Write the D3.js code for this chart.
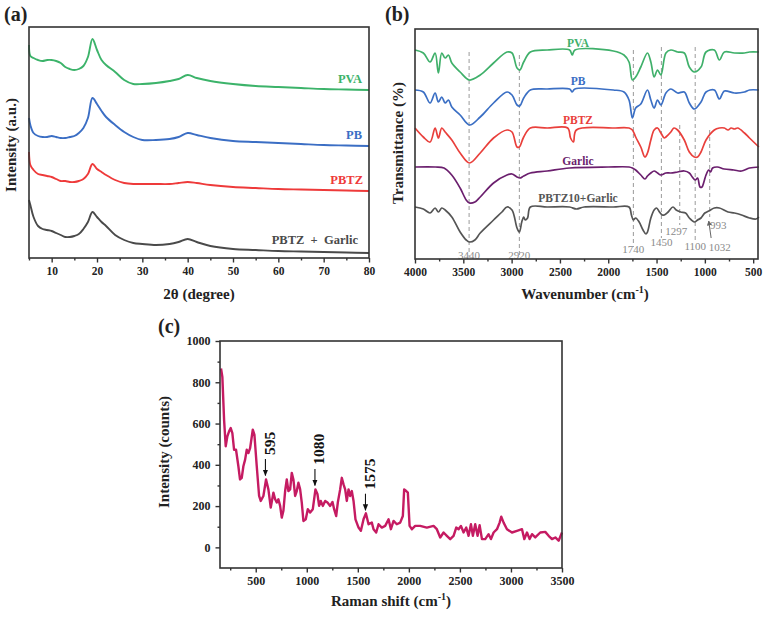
<!DOCTYPE html>
<html><head><meta charset="utf-8">
<script src="https://cdn.jsdelivr.net/npm/d3@7"></script>
<style>
body{margin:0;background:#fff;}
text{font-family:"Liberation Serif","Times New Roman",serif;}
</style></head>
<body><svg id="c" width="764" height="617"></svg>
<script>
// ---------- Panel (a) XRD ----------
const xrdAngle = [5,5.3,6,7,8,9,10,11,12,13,14,15,16,17,18,19,20,21,22,24,26,28,30,33,36,38,40,42,45,50,55,60,65,70,75,80];
const xrdPVA  = [213,202,200,198,197,198,198,197,195,191,189,188,189,192,201,219,208,198,193,186,178,174,174,175,177,179,183,180,177,174,172,171,170,169,168.5,168];
const xrdPB   = [140,133,125,122,121,121,122,121,120,120,121,122,125,130,140,160,154,147,141,133,126,121,118,118,119,121,125,123,120,117,116,115,114,113,112.5,112];
const xrdPBTZ = [106,93,88,84,83,82,81,79,77,77,76,76,77,79,84,94,89,86,83,78,75,74,74,74,74,75,76,75,73,71,70,69,68.5,68,67.5,67];
const xrdPBTZG= [58,53,41,32,29,28,27,25,23,21,21,22,24,29,36,46,41,36,32,23,18,15,14,13,14,16,19,16,12,9,8,7,6.5,6,5.5,5];
const xrdNames = ["PVA","PB","PBTZ","PBTZ  +  Garlic"];
const xrdTicks = [10,20,30,40,50,60,70,80];

// ---------- Panel (b) FTIR ----------
const wnA = [4000,3914,3844,3792,3758,3723,3688,3654,3619,3533,3436,3325,3187,3048,2996,2944,2915,2875,2806,2632,2400,2373,2345,1947,1837,1785,1750,1716,1663,1594,1559,1525,1490,1455,1403,1352,1282,1213,1161,1109,1040,988,902,850,798,694,590,538,441];
const ftPVA = [209,206,197,206,186,206,201,204,196,187,179,184,196,207,206,191,189,197,207,209,209,204,209,208,204,197,179,182,192,206,197,182,189,184,206,209,207,206,192,187,192,207,209,199,207,206,206,207,207];
const ftPB  = [169,167,156,166,157,162,156,159,152,144,134,142,156,167,164,154,153,161,169,170,170,167,170,169,167,159,141,151,155,169,159,151,159,154,166,170,166,167,156,150,157,167,169,160,168,166,167,169,169];
const wnPBTZ = [4000,3914,3844,3792,3758,3723,3688,3619,3533,3436,3325,3187,3048,2996,2944,2920,2875,2806,2632,2420,2390,2360,2330,1947,1785,1750,1716,1663,1620,1594,1559,1525,1490,1455,1420,1403,1352,1320,1282,1213,1161,1109,1075,1040,988,902,850,798,760,728,694,660,590,538,441];
const ftPBTZ = [131,122,117,131,121,131,127,119,106,96,106,121,129,127,112,112,122,131,131,131,121,117,129,131,131,129,122,112,102,106,119,129,131,126,121,122,127,131,129,119,107,102,102,107,119,129,131,131,129,131,130,131,126,121,112];
const wnGarlic = [4000,3790,3700,3620,3533,3470,3436,3380,3325,3187,3048,2996,2944,2915,2875,2806,2632,2400,2000,1785,1750,1716,1663,1620,1594,1559,1525,1490,1455,1403,1352,1282,1213,1161,1130,1100,1075,1050,1030,1010,988,960,940,920,870,800,700,620,538,441];
const ftGarlic = [92,92,91,84,71,59,56,57,62,76,84,85,82,81,83,86,88,91,92,92,91,89,84,80,83,86,88,86,84,86,86,87,88,86,82,79,81,72,72,77,84,89,87,91,92,90,89,88,91,92];
const wnMix = [4000,3914,3844,3792,3758,3723,3688,3619,3533,3470,3436,3380,3325,3187,3100,3048,2996,2944,2920,2895,2875,2860,2835,2806,2632,2400,2330,2250,1947,1785,1760,1740,1716,1680,1640,1610,1594,1559,1525,1500,1470,1440,1420,1380,1330,1297,1250,1200,1161,1109,1075,1040,1000,960,902,850,760,694,620,538,470,441];
const ftMix = [52,50,46,51,47,51,49,42,27,19,17,19,26,39,47,52,49,31,27,37,42,39,41,52,52,52,50,52,52,52,44,39,41,37,29,25,27,41,49,51,47,44,44,47,52,49,47,46,41,37,39,41,46,48,51,51,47,46,44,41,40,42];
const ftNames = ["PVA","PB","PBTZ","Garlic","PBTZ10+Garlic"];
const ftTicks = [4000,3500,3000,2500,2000,1500,1000,500];
const peakLineWn  = [3440,2920,1740,1450,1260,1100,950];
const peakLineTop = [207,204,209,212,134,212,129];
const peakLineBot = [2,2,12,21,34,17,42];
const peakText   = ["3440","2920","1740","1450","1297","1100","993","1032"];

// ---------- Panel (c) Raman ----------
const ramanShift = [160,173,190,206,222,239,255,271,288,307,330,346,363,379,396,412,428,445,471,487,510,533,549,575,601,624,647,673,690,706,722,739,755,771,788,804,820,837,853,869,886,902,918,935,951,967,990,1010,1033,1059,1085,1105,1121,1137,1157,1180,1203,1229,1252,1268,1288,1304,1327,1343,1360,1376,1392,1409,1425,1441,1458,1477,1507,1530,1556,1579,1605,1637,1654,1680,1703,1735,1768,1801,1824,1850,1882,1915,1941,1954,1974,1990,2007,2030,2062,2111,2176,2242,2274,2307,2340,2372,2405,2438,2464,2487,2510,2536,2562,2585,2608,2627,2650,2673,2693,2716,2748,2781,2804,2830,2863,2889,2905,2928,2961,3010,3059,3108,3131,3157,3183,3206,3238,3287,3336,3369,3402,3435,3467,3500];
const ramanCounts = [867,826,618,490,538,562,578,554,473,473,393,329,337,393,425,473,457,481,570,546,393,249,225,249,329,281,193,265,233,217,233,201,144,177,273,329,273,281,361,329,249,273,313,281,217,128,136,185,169,185,281,257,201,225,201,225,217,201,220,185,152,217,281,337,305,281,225,281,249,273,225,136,96,80,136,165,112,120,88,72,112,96,104,136,88,128,112,120,152,281,273,265,104,88,104,104,96,104,88,48,72,56,40,56,96,88,104,72,96,56,112,56,112,56,107,40,40,64,40,72,88,120,149,120,88,72,80,88,40,72,40,64,48,72,75,56,40,48,32,72];
const ramanMarks = [595,1080,1575];
const ramanMarkTop = [448,400,280];
const ramanTicksX = [500,1000,1500,2000,2500,3000,3500];
const ramanTicksY = [0,200,400,600,800,1000];

// =====================================================
const svg = d3.select("#c");
const FONT = '"Liberation Serif","Times New Roman",serif';

function frame(x0,y0,x1,y1){
  svg.append("rect").attr("x",x0).attr("y",y0).attr("width",x1-x0).attr("height",y1-y0)
    .attr("fill","none").attr("stroke","#333").attr("stroke-width",1.6);
}
function styleAxis(g,size){
  g.select(".domain").remove();
  g.selectAll(".tick line").attr("stroke","#333").attr("stroke-width",1.4);
  g.selectAll(".tick text").attr("font-family",FONT).attr("font-weight","bold").attr("font-size",size).attr("fill","#222");
}
function panelLabel(t,x,y){
  svg.append("text").attr("x",x).attr("y",y).text(t).attr("font-size",20).attr("font-weight","bold").attr("fill","#222");
}
function supTitle(x,y,main,rot){
  const t = svg.append("text").attr("font-size",15).attr("font-weight","bold").attr("fill","#222").attr("text-anchor","middle");
  if(rot){ t.attr("transform",`translate(${x},${y}) rotate(-90)`).attr("dominant-baseline","central"); }
  else { t.attr("x",x).attr("y",y); }
  t.append("tspan").text(main);
  return t;
}

// ---------- Panel (a) ----------
{
  const x = d3.scaleLinear([5,80],[29,369]);
  const y = d3.scaleLinear([0,231],[258,27]);
  const colors = ["#3cb36a","#3b6ec4","#ee3a3a","#4a4a4a"];
  const series = [xrdPVA,xrdPB,xrdPBTZ,xrdPBTZG];
  const line = d3.line().x((d,i)=>x(xrdAngle[i])).y(d=>y(d)).curve(d3.curveCatmullRom.alpha(0.5));
  series.forEach((s,k)=>{
    svg.append("path").attr("d",line(s)).attr("fill","none").attr("stroke",colors[k]).attr("stroke-width",1.9);
  });
  const labY = [79,135,180,240];
  const labX = [362,362,363,358];
  xrdNames.forEach((n,k)=>{
    svg.append("text").attr("x",labX[k]).attr("y",labY[k]).attr("dy","0.35em").attr("text-anchor","end")
      .attr("font-size",12.5).attr("font-weight","bold").attr("fill",colors[k]).attr("xml:space","preserve").text(n);
  });
  const gMin = svg.append("g").attr("transform","translate(0,258)")
    .call(d3.axisBottom(x).tickValues([5,15,25,35,45,55,65,75]).tickSize(2.5).tickFormat(""));
  styleAxis(gMin,11);
  const g = svg.append("g").attr("transform","translate(0,258)")
    .call(d3.axisBottom(x).tickValues(xrdTicks).tickSize(4.5).tickPadding(4).tickFormat(d3.format("d")));
  styleAxis(g,11.5);
  frame(29,27,369,258);
  const t = supTitle(199,299,"2θ (degree)",false);
  supTitle(11,145,"Intensity (a.u.)",true);
  panelLabel("(a)",4,21);
}

// ---------- Panel (b) ----------
{
  const x = d3.scaleLinear([4000,450],[415,758]);
  const y = d3.scaleLinear([0,230],[259,29]);
  // dashed peak lines
  peakLineWn.forEach((w,i)=>{
    svg.append("line").attr("x1",x(w)).attr("x2",x(w)).attr("y1",y(peakLineTop[i])).attr("y2",y(peakLineBot[i]))
      .attr("stroke","#9a9a9a").attr("stroke-width",1).attr("stroke-dasharray","4,3");
  });
  const colors = ["#3fb06a","#3b6fc4","#e9403c","#6b1f6e","#555555"];
  const wns = [wnA,wnA,wnPBTZ,wnGarlic,wnMix];
  const vals = [ftPVA,ftPB,ftPBTZ,ftGarlic,ftMix];
  vals.forEach((s,k)=>{
    const line = d3.line().x((d,i)=>x(wns[k][i])).y(d=>y(d)).curve(d3.curveCatmullRom.alpha(0.5));
    svg.append("path").attr("d",line(s)).attr("fill","none").attr("stroke",colors[k]).attr("stroke-width",1.7);
  });
  const labY = [43,81,120,161,198];
  ftNames.forEach((n,k)=>{
    svg.append("text").attr("x",578).attr("y",labY[k]).attr("dy","0.35em").attr("text-anchor","middle")
      .attr("font-size",11.5).attr("font-weight","bold").attr("fill",colors[k]).text(n);
  });
  // peak labels (gray)
  const ptWn = [3440,2920,1740,1450,1297,1100,945,940];
  const ptT  = [0,0,6,13,24,9,30,8];
  const ptX  = [0,0,0,0,0,0,8,9];
  peakText.forEach((s,i)=>{
    svg.append("text").attr("x",x(ptWn[i])+ptX[i]).attr("y",y(ptT[i])).attr("text-anchor","middle")
      .attr("font-size",11).attr("fill","#8a8a8a").text(s);
  });
  // small arrow for 1032
  svg.append("defs").append("marker").attr("id","ah").attr("viewBox","0 0 10 10").attr("refX",9).attr("refY",5)
    .attr("markerWidth",5).attr("markerHeight",5).attr("orient","auto-start-reverse")
    .append("path").attr("d","M0,0L10,5L0,10z").attr("fill","#666");
  svg.append("line").attr("x1",x(935)).attr("y1",y(21)).attr("x2",x(960)).attr("y2",y(38))
    .attr("stroke","#666").attr("stroke-width",1).attr("marker-end","url(#ah)");
  const gMin = svg.append("g").attr("transform","translate(0,259)")
    .call(d3.axisBottom(x).tickValues([3750,3250,2750,2250,1750,1250,750]).tickSize(2.5).tickFormat(""));
  styleAxis(gMin,11);
  const g = svg.append("g").attr("transform","translate(0,259)")
    .call(d3.axisBottom(x).tickValues(ftTicks).tickSize(4.5).tickPadding(4).tickFormat(d3.format("d")));
  styleAxis(g,11.5);
  frame(415,29,758,259);
  const t = supTitle(585,299,"Wavenumber (cm",false);
  t.append("tspan").attr("font-size",10).attr("dy",-6).text("-1");
  t.append("tspan").attr("dy",6).text(")");
  supTitle(398,143,"Transmittance (%)",true);
  panelLabel("(b)",385,21);
}

// ---------- Panel (c) ----------
{
  const x = d3.scaleLinear([150,3500],[220,562]);
  const y = d3.scaleLinear([-100,1000],[568,341]);
  const line = d3.line().x((d,i)=>x(ramanShift[i])).y(d=>y(d));
  svg.append("path").attr("d",line(ramanCounts)).attr("fill","none").attr("stroke","#c51b62")
    .attr("stroke-width",2.4).attr("stroke-linejoin","round");
  const defs = svg.append("defs");
  defs.append("marker").attr("id","ah2").attr("viewBox","0 0 10 10").attr("refX",9).attr("refY",5)
    .attr("markerWidth",6).attr("markerHeight",6).attr("orient","auto")
    .append("path").attr("d","M0,1L10,5L0,9z").attr("fill","#111");
  ramanMarks.forEach((m,i)=>{
    const top = ramanMarkTop[i];
    svg.append("line").attr("x1",x(m)).attr("x2",x(m)).attr("y1",y(top-20)).attr("y2",y(top-100))
      .attr("stroke","#111").attr("stroke-width",1.1).attr("marker-end","url(#ah2)");
    svg.append("text").attr("transform",`translate(${x(m)+4},${y(top)}) rotate(-90)`)
      .attr("dominant-baseline","central").attr("text-anchor","start")
      .attr("font-size",15.5).attr("font-weight","bold").attr("fill","#111").text(String(m));
  });
  const gxm = svg.append("g").attr("transform","translate(0,568)")
    .call(d3.axisBottom(x).tickValues([250,750,1250,1750,2250,2750,3250]).tickSize(2.5).tickFormat(""));
  styleAxis(gxm,11);
  const gx = svg.append("g").attr("transform","translate(0,568)")
    .call(d3.axisBottom(x).tickValues(ramanTicksX).tickSize(4.5).tickPadding(4).tickFormat(d3.format("d")));
  styleAxis(gx,12);
  const gym = svg.append("g").attr("transform","translate(220,0)")
    .call(d3.axisLeft(y).tickValues([100,300,500,700,900]).tickSize(2.5).tickFormat(""));
  styleAxis(gym,11);
  const gy = svg.append("g").attr("transform","translate(220,0)")
    .call(d3.axisLeft(y).tickValues(ramanTicksY).tickSize(4.5).tickPadding(5).tickFormat(d3.format("d")));
  styleAxis(gy,12);
  frame(220,341,562,568);
  const t = supTitle(391,606,"Raman shift (cm",false);
  t.append("tspan").attr("font-size",10).attr("dy",-6).text("-1");
  t.append("tspan").attr("dy",6).text(")");
  supTitle(164,452,"Intensity (counts)",true);
  panelLabel("(c)",158,333);
}
</script></body></html>
